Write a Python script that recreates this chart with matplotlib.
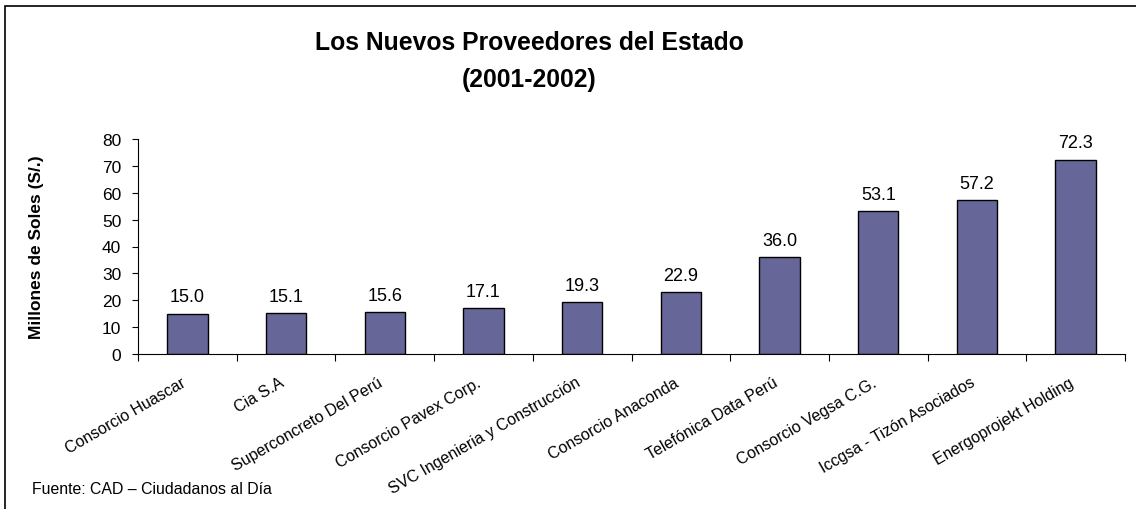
import matplotlib.pyplot as plt
from matplotlib.patches import Rectangle
from matplotlib.transforms import ScaledTranslation

plt.rcParams['font.family'] = ['Liberation Sans', 'DejaVu Sans']

proveedores = ["Consorcio Huascar", "Cia S.A", "Superconcreto Del Perú",
               "Consorcio Pavex Corp.", "SVC Ingenieria y Construcción",
               "Consorcio Anaconda", "Telefónica Data Perú",
               "Consorcio Vegsa C.G.", "Iccgsa - Tizón Asociados",
               "Energoprojekt Holding"]
montos = [15.0, 15.1, 15.6, 17.1, 19.3, 22.9, 36.0, 53.1, 57.2, 72.3]
y_ticks = [0, 10, 20, 30, 40, 50, 60, 70, 80]

fig = plt.figure(figsize=(11.36, 5.10), dpi=100)
ax = fig.add_axes([138 / 1136, 1 - 355 / 510, (1125 - 138) / 1136, (355 - 140) / 510])

x = list(range(len(proveedores)))
ax.bar(x, montos, width=0.41, color='#666699', edgecolor='black', linewidth=1.0)

for xi, v in zip(x, montos):
    ax.annotate(f"{v:.1f}", (xi, v), xytext=(0, 6), textcoords='offset points',
                ha='center', va='bottom', fontsize=13)

ax.set_xlim(-0.5, len(proveedores) - 0.5)
ax.set_ylim(0, 80)
ax.set_yticks(y_ticks)
ax.tick_params(axis='y', labelsize=12.5, length=4, width=0.8, pad=8)

# ticks at category boundaries, labels at category centers
ax.set_xticks([i - 0.5 for i in range(len(proveedores) + 1)])
ax.set_xticklabels([])
ax.tick_params(axis='x', which='major', length=5, width=0.8)
ax.set_xticks(x, minor=True)
ax.set_xticklabels(proveedores, minor=True, rotation=30, ha='right',
                   rotation_mode='anchor', fontsize=11.5)
ax.tick_params(axis='x', which='minor', length=0, pad=14)
shift = ScaledTranslation(-0.07, -0.01, fig.dpi_scale_trans)
for lbl in ax.get_xticklabels(minor=True):
    lbl.set_transform(lbl.get_transform() + shift)

for s in ['top', 'right']:
    ax.spines[s].set_visible(False)
for s in ['left', 'bottom']:
    ax.spines[s].set_linewidth(0.8)

ax.set_ylabel("Millones de Soles (S/.)", fontsize=12.5, fontweight='bold')
ax.yaxis.set_label_coords((44 - 138) / 987, 0.5)

fig.text(529 / 1136, 1 - 43 / 510, "Los Nuevos Proveedores del Estado",
         ha='center', va='center', fontsize=17.8, fontweight='bold')
fig.text(529 / 1136, 1 - 80 / 510, "(2001-2002)",
         ha='center', va='center', fontsize=17.8, fontweight='bold')
fig.text(32 / 1136, 1 - 490 / 510, "Fuente: CAD – Ciudadanos al Día",
         ha='left', va='center', fontsize=11.4)

# outer chart border (right and bottom run off the image)
fig.patches.append(Rectangle((5 / 1136, -0.1), 1.2, 1 - 7 / 510 + 0.1,
                             transform=fig.transFigure, fill=False,
                             edgecolor='black', linewidth=1.2))

fig.savefig("out.png", dpi=100)
